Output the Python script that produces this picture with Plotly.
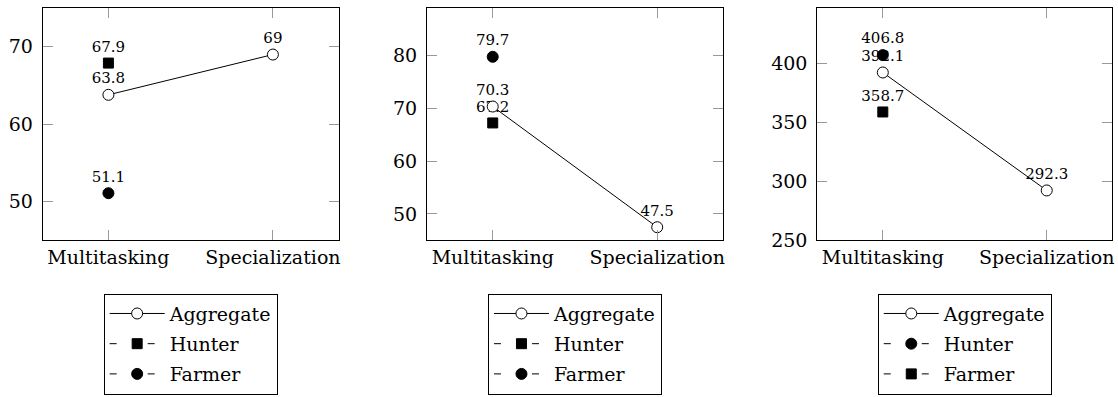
import plotly.graph_objects as go

# Categories on the x axis
categories = ["Multitasking", "Specialization"]

# Panel 1
p1_aggregate = [63.8, 69]
p1_hunter = [67.9]
p1_farmer = [51.1]

# Panel 2
p2_aggregate = [70.3, 47.5]
p2_hunter = [67.2]
p2_farmer = [79.7]

# Panel 3
p3_aggregate = [392.1, 292.3]
p3_hunter = [406.8]
p3_farmer = [358.7]

# y axis ticks for each panel
p1_yticks = [50, 60, 70]
p2_yticks = [50, 60, 70, 80]
p3_yticks = [250, 300, 350, 400]

W, H = 1118, 397
FONT = "DejaVu Serif"
TICK_SIZE = 19
LABEL_SIZE = 15
DASH = "7px,31px"

# pixel geometry of the three axes boxes
boxes = [(42.7, 339.3), (427.7, 724.3), (818.7, 1114.3)]
box_top, box_bottom = 8.3, 247.3
yranges = [[45, 75], [45, 88.9], [250, 446.6]]

fig = go.Figure()


def fmt(v):
    return f"{v:g}"


def add_series(idx, name, xs, ys, symbol, filled, dash, rank):
    sfx = "" if idx == 1 else str(idx)
    fig.add_trace(go.Scatter(
        x=xs, y=ys, name=name,
        mode="lines+markers+text",
        text=[fmt(v) for v in ys],
        textposition="top center",
        textfont=dict(family=FONT, size=LABEL_SIZE, color="black"),
        line=dict(color="black", width=1, dash=dash),
        marker=dict(symbol=symbol, size=11 if symbol == "circle" else 10,
                    color="black" if filled else "white",
                    line=dict(color="black", width=1)),
        xaxis="x" + sfx, yaxis="y" + sfx,
        legend="legend" + sfx, legendrank=rank,
        legendgroup=f"p{idx}-{name}",
        cliponaxis=False,
    ))


panels = [
    (1, p1_aggregate, p1_hunter, p1_farmer, "square", "circle", False),
    (2, p2_aggregate, p2_hunter, p2_farmer, "square", "circle", True),
    (3, p3_aggregate, p3_hunter, p3_farmer, "circle", "square", False),
]

for idx, agg, hun, far, hsym, fsym, agg_last in panels:
    series = [
        ("Hunter", categories[:1], hun, hsym, True, DASH, 2),
        ("Farmer", categories[:1], far, fsym, True, DASH, 3),
    ]
    aggregate = ("Aggregate", categories, agg, "circle", False, "solid", 1)
    # later traces are painted on top of earlier ones
    order = series + [aggregate] if agg_last else [aggregate] + series
    for name, xs, ys, sym, filled, dash, rank in order:
        add_series(idx, name, xs, ys, sym, filled, dash, rank)

layout = dict(
    width=W, height=H,
    margin=dict(l=0, r=0, t=0, b=0),
    paper_bgcolor="white", plot_bgcolor="white",
    font=dict(family=FONT, size=TICK_SIZE, color="black"),
    showlegend=True,
)

yticks = [p1_yticks, p2_yticks, p3_yticks]
for i, ((x0, x1), yr, yt) in enumerate(zip(boxes, yranges, yticks), start=1):
    sfx = "" if i == 1 else str(i)
    axis_common = dict(
        showline=True, linecolor="black", linewidth=1, mirror="ticks",
        ticks="inside", ticklen=10, tickcolor="#999999", tickwidth=1,
        showgrid=False, zeroline=False, fixedrange=True,
        tickfont=dict(family=FONT, size=TICK_SIZE, color="black"),
    )
    layout["xaxis" + sfx] = dict(
        axis_common, type="category", range=[-0.4, 1.4],
        domain=[x0 / W, x1 / W], anchor="y" + sfx,
        categoryorder="array", categoryarray=categories,
    )
    layout["yaxis" + sfx] = dict(
        axis_common, range=yr, tickvals=yt,
        domain=[(H - box_bottom) / H, (H - box_top) / H], anchor="x" + sfx,
        ticklabelstandoff=5,
    )
    layout["legend" + sfx] = dict(
        x=(x0 + x1) / 2 / W, y=(H - 302) / H,
        xanchor="center", yanchor="top",
        bordercolor="black", borderwidth=1, bgcolor="white",
        font=dict(family=FONT, size=TICK_SIZE, color="black"),
        itemwidth=55, traceorder="grouped", tracegroupgap=2.5,
    )

fig.update_layout(**layout)
fig.write_html("out.html")
